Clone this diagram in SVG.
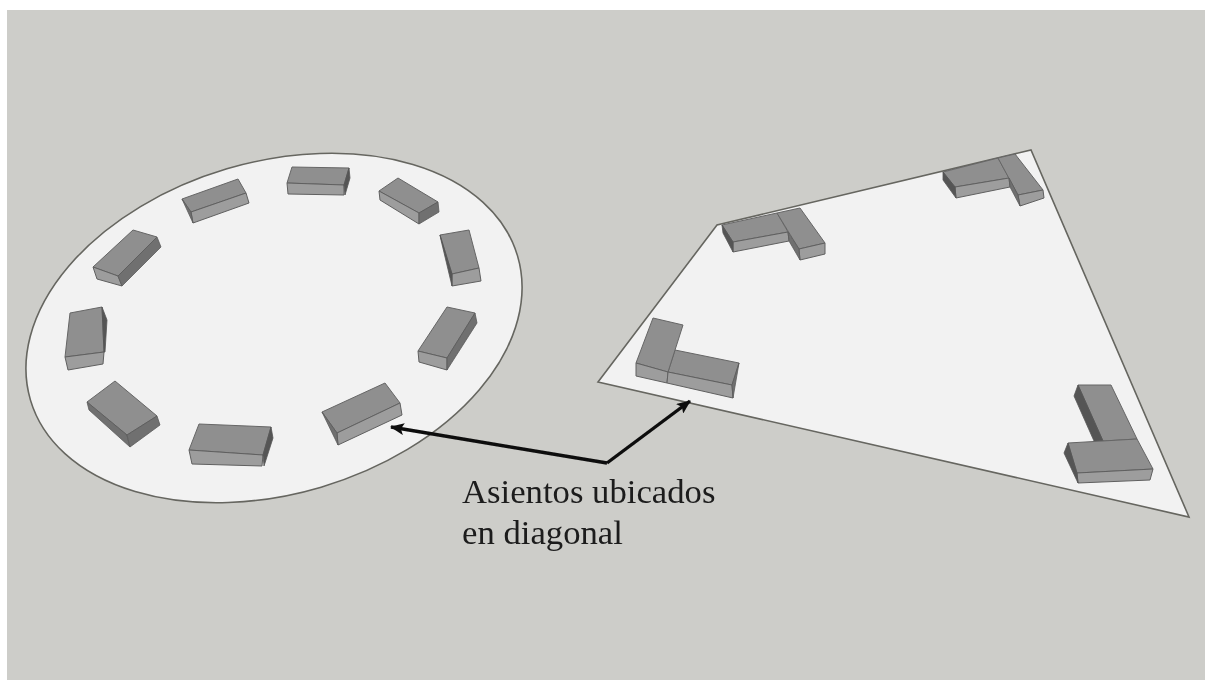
<svg xmlns="http://www.w3.org/2000/svg" width="1205" height="680" viewBox="0 0 1205 680">
<style>
.floor{fill:#f2f2f2;stroke:#666660;stroke-width:1.6}
.t{fill:#8f8f8f;stroke:#666;stroke-width:1}
.f{fill:#9d9d9d;stroke:#606060;stroke-width:1}
.d{fill:#555;stroke:#555;stroke-width:.8}
.m{fill:#6f6f6f;stroke:#5c5c5c;stroke-width:.8}
.arrow{fill:none;stroke:#0c0c0c;stroke-width:3.4;stroke-linejoin:miter}
.label{font-family:"Liberation Serif","Times New Roman",serif;font-size:34.7px;fill:#1c1c1c}
</style>
<defs>
<filter id="soft" x="-2%" y="-2%" width="104%" height="104%"><feGaussianBlur stdDeviation="0.7"/></filter>
<filter id="softer" x="-2%" y="-10%" width="104%" height="120%"><feGaussianBlur stdDeviation="0.35"/></filter>
<marker id="head" viewBox="0 0 14 12" refX="13" refY="6" markerWidth="14" markerHeight="12" markerUnits="userSpaceOnUse" orient="auto"><path d="M0 0L14 6L0 12L3 6Z" fill="#0c0c0c"/></marker>
</defs>
<rect width="1205" height="680" fill="#fff"/>
<rect x="7" y="10" width="1198" height="670" fill="#cdcdc9"/>
<g filter="url(#soft)">
<g id="round-floor"><ellipse class="floor" cx="274" cy="328" rx="254" ry="166" transform="rotate(-16.5 274 328)"/></g>
<g id="square-floor"><polygon class="floor" points="598,382 717,225 1031,150 1189,517"/></g>

<g id="seat-1"><polygon class="t" points="182,199 238,179 246,193 191,212"/><polygon class="f" points="191,212 246,193 249,203 193,223"/><polygon class="m" points="182,199 191,212 193,223"/></g>
<g id="seat-2"><polygon class="t" points="93,267 133,230 157,237 118,276"/><polygon class="f" points="93,267 118,276 122,286 97,279"/><polygon class="m" points="157,237 161,247 122,286 118,276"/></g>
<g id="seat-3"><polygon class="t" points="70,313 102,307 104,352 65,357"/><polygon class="f" points="65,357 104,352 103,364 68,370"/><polygon class="d" points="102,307 107,320 105,352 104,352"/></g>
<g id="seat-4"><polygon class="t" points="87,402 115,381 157,416 127,435"/><polygon class="m" points="87,402 127,435 130,447 89,410"/><polygon class="m" points="157,416 160,425 130,447 127,435"/></g>
<g id="seat-5"><polygon class="t" points="189,450 199,424 271,427 263,455"/><polygon class="f" points="189,450 263,455 262,466 192,464"/><polygon class="d" points="271,427 273,438 264,466 263,455"/></g>
<g id="seat-6"><polygon class="t" points="322,412 385,383 400,403 337,433"/><polygon class="f" points="337,433 400,403 402,415 338,445"/><polygon class="m" points="322,412 337,433 338,445"/></g>
<g id="seat-7"><polygon class="t" points="287,183 292,167 349,168 344,185"/><polygon class="f" points="287,183 344,185 344,195 288,194"/><polygon class="d" points="349,168 350,178 345,195 344,185"/></g>
<g id="seat-8"><polygon class="t" points="379,191 398,178 438,202 419,213"/><polygon class="f" points="379,191 419,213 419,224 380,200"/><polygon class="m" points="438,202 439,212 419,224 419,213"/></g>
<g id="seat-9"><polygon class="t" points="440,235 469,230 479,268 452,274"/><polygon class="f" points="452,274 479,268 481,281 452,286"/><polygon class="d" points="440,235 452,274 452,286 441,240"/></g>
<g id="seat-10"><polygon class="t" points="418,351 447,307 475,313 447,358"/><polygon class="f" points="418,351 447,358 447,370 419,362"/><polygon class="m" points="475,313 477,323 447,370 447,358"/></g>

<g id="corner-left"><polygon class="t" points="675,350 739,363 732,385 668,372"/><polygon class="t" points="653,318 683,325 668,372 636,363"/><polygon class="f" points="636,363 668,372 667,383 636,376"/><polygon class="f" points="668,372 732,385 733,398 667,383"/><polygon class="m" points="739,363 733,398 732,385"/></g>
<g id="corner-top"><polygon class="t" points="722,225 777,213 788,232 733,242"/><polygon class="f" points="733,242 788,232 789,241 733,252"/><polygon class="d" points="722,225 733,242 733,252 723,233"/><polygon class="t" points="777,213 800,208 825,243 799,249"/><polygon class="f" points="799,249 825,243 825,254 800,260"/><polygon class="m" points="788,232 799,249 800,260 789,241"/></g>
<g id="corner-right"><polygon class="t" points="943,172 998,158 1009,178 955,187"/><polygon class="f" points="955,187 1009,178 1010,187 956,198"/><polygon class="d" points="943,172 955,187 956,198 943,180"/><polygon class="t" points="998,158 1015,154 1043,190 1018,195"/><polygon class="f" points="1018,195 1043,190 1044,198 1020,206"/><polygon class="m" points="1009,178 1018,195 1020,206 1010,187"/></g>
<g id="corner-bottom"><polygon class="t" points="1078,385 1111,385 1137,439 1103,441"/><polygon class="d" points="1078,385 1074,396 1094,441 1103,441"/><polygon class="t" points="1068,443 1137,439 1153,469 1077,473"/><polygon class="f" points="1077,473 1153,469 1150,480 1078,483"/><polygon class="d" points="1068,443 1064,453 1078,483 1077,473"/></g>
</g>
<g id="connectors" filter="url(#softer)"><path class="arrow" marker-end="url(#head)" d="M607 463L391 427"/><path class="arrow" marker-end="url(#head)" d="M607 463L690 401"/></g>
<g id="label" filter="url(#softer)"><text class="label" x="462" y="503">Asientos ubicados</text><text class="label" x="462" y="544">en diagonal</text></g>
</svg>
